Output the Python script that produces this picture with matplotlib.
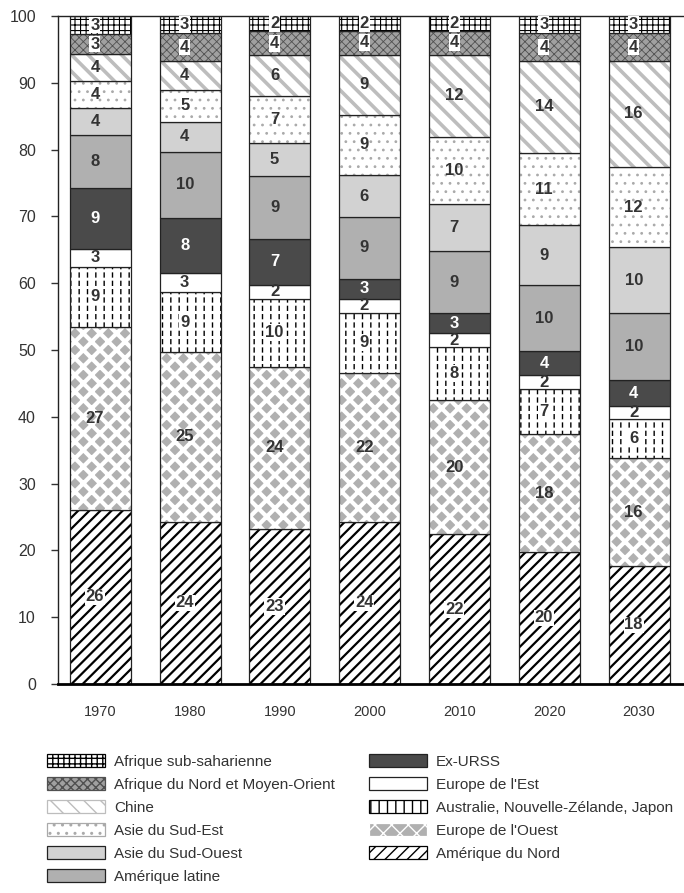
import numpy as np
import matplotlib
matplotlib.use("Agg")
import matplotlib.pyplot as plt
import matplotlib.patches as mpatches

plt.rcParams['font.family'] = ['Liberation Sans', 'DejaVu Sans']

# data (shares in %)
years = ["1970", "1980", "1990", "2000", "2010", "2020", "2030"]
amerique_nord = [26.1, 24.3, 23.2, 24.3, 22.4, 19.8, 17.7]
europe_ouest = [27.4, 25.4, 24.3, 22.3, 20.1, 17.6, 16.1]
australie_nz_japon = [8.9, 9.0, 10.2, 9.0, 7.9, 6.8, 5.9]
europe_est = [2.8, 2.8, 2.1, 2.0, 2.1, 2.0, 1.9]
ex_urss = [9.0, 8.3, 6.9, 3.1, 3.0, 3.6, 3.9]
amerique_latine = [8.0, 9.9, 9.4, 9.2, 9.3, 9.9, 10.0]
asie_sud_ouest = [4.0, 4.4, 4.9, 6.3, 7.1, 9.0, 9.9]
asie_sud_est = [4.1, 4.9, 7.1, 9.0, 10.0, 10.8, 12.0]
chine = [4.0, 4.3, 6.0, 9.0, 12.3, 13.8, 15.9]
afrique_nord_mo = [3.0, 4.1, 3.6, 3.6, 3.6, 4.1, 4.1]
afrique_subsah = [2.7, 2.6, 2.3, 2.2, 2.2, 2.6, 2.6]

series = [
    ("Amérique du Nord", amerique_nord),
    ("Europe de l'Ouest", europe_ouest),
    ("Australie, Nouvelle-Zélande, Japon", australie_nz_japon),
    ("Europe de l'Est", europe_est),
    ("Ex-URSS", ex_urss),
    ("Amérique latine", amerique_latine),
    ("Asie du Sud-Ouest", asie_sud_ouest),
    ("Asie du Sud-Est", asie_sud_est),
    ("Chine", chine),
    ("Afrique du Nord et Moyen-Orient", afrique_nord_mo),
    ("Afrique sub-saharienne", afrique_subsah),
]

# layers: (facecolor, hatch, hatchcolor, hatch linewidth)
styles = {
    "Amérique du Nord": [("white", "///", "black", 1.6)],
    "Europe de l'Ouest": [("#b0b0b0", "xx", "white", 3.0)],
    "Australie, Nouvelle-Zélande, Japon": [("white", "||", "black", 1.0), ("none", "--", "white", 2.2)],
    "Europe de l'Est": [("white", None, None, 1.0)],
    "Ex-URSS": [("#4a4a4a", None, None, 1.0)],
    "Amérique latine": [("#b0b0b0", None, None, 1.0)],
    "Asie du Sud-Ouest": [("#d2d2d2", None, None, 1.0)],
    "Asie du Sud-Est": [("white", "..", "#aaaaaa", 0.8)],
    "Chine": [("white", "\\\\", "#bdbdbd", 2.6)],
    "Afrique du Nord et Moyen-Orient": [("#a0a0a0", "xxxx", "#505050", 0.6)],
    "Afrique sub-saharienne": [("white", "+++", "black", 0.8)],
}
txt_style = {
    "Ex-URSS": ("white", False),
    "Amérique du Nord": ("#333333", True),
    "Australie, Nouvelle-Zélande, Japon": ("#333333", True),
    "Afrique du Nord et Moyen-Orient": ("#333333", True),
    "Afrique sub-saharienne": ("#333333", True),
}

fig = plt.figure(figsize=(6.84, 8.93), dpi=100)
ax = fig.add_axes([0.085, 0.234, 0.915, 0.748])

x = np.arange(len(years))
w = 0.68
bottom = np.zeros(len(years))
for name, vals in series:
    vals = np.array(vals)
    for face, hatch, hcol, hlw in styles[name]:
        with plt.rc_context({'hatch.linewidth': hlw}):
            bars = ax.bar(x, vals, w, bottom=bottom, color=face,
                          hatch=hatch, edgecolor=hcol if hatch else 'none', linewidth=0)
        for b in bars:
            if hasattr(b, 'set_hatch_linewidth'):
                b.set_hatch_linewidth(hlw)
    ax.bar(x, vals, w, bottom=bottom, fill=False, edgecolor='#222222', linewidth=0.9)
    col, box = txt_style.get(name, ("#333333", False))
    for xi, v, b0 in zip(x, vals, bottom):
        kw = {}
        if box:
            kw['bbox'] = dict(facecolor='white', edgecolor='none', pad=0.6)
        ax.text(xi - 0.06, b0 + v / 2, f"{v:.0f}", ha='center', va='center',
                fontsize=12, fontweight='bold', color=col, **kw)
    bottom += vals

ax.set_xlim(-0.47, 6.5)
ax.set_ylim(0, 100)
ax.set_xticks(x)
ax.set_xticklabels(years, fontsize=10.5, color='#333333')
ax.tick_params(axis='x', length=0, pad=15)
ax.set_yticks(np.arange(0, 101, 10))
ax.tick_params(axis='y', length=5, width=1, labelsize=11.5, colors='#333333', pad=11)
ax.spines['right'].set_visible(False)
ax.spines['bottom'].set_linewidth(2)
for s in ['left', 'top']:
    ax.spines[s].set_linewidth(1)
    ax.spines[s].set_color('#222222')

# legend
order = ["Afrique sub-saharienne", "Afrique du Nord et Moyen-Orient", "Chine",
         "Asie du Sud-Est", "Asie du Sud-Ouest", "Amérique latine",
         "Ex-URSS", "Europe de l'Est", "Australie, Nouvelle-Zélande, Japon",
         "Europe de l'Ouest", "Amérique du Nord"]
handles = []
for name in order:
    face, hatch, hcol, hlw = styles[name][0]
    with plt.rc_context({'hatch.linewidth': hlw}):
        p = mpatches.Patch(facecolor=face, hatch=hatch,
                           edgecolor=hcol if hatch else '#222222',
                           linewidth=0.9)
    handles.append(p)
fig.legend(handles, order, ncol=2, loc='upper left', bbox_to_anchor=(0.049, 0.171),
           frameon=False, fontsize=11, handlelength=3.8, handleheight=0.9,
           handletextpad=0.6, labelspacing=0.55, columnspacing=2.2,
           labelcolor='#333333')

fig.savefig("out.png", dpi=100)
